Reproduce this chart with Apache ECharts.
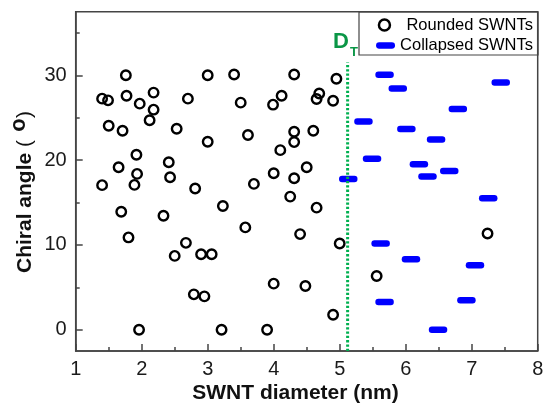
<!DOCTYPE html>
<html>
<head>
<meta charset="utf-8">
<script src="https://cdn.jsdelivr.net/npm/echarts@6/dist/echarts.min.js"></script>
<style>
html,body{margin:0;padding:0;background:#fff;}
#chart{width:543px;height:404px;}
</style>
</head>
<body>
<div id="chart"></div>
<script>
// ---- data ----
const roundedDiameter = [1.76,3.00,1.40,1.49,1.77,2.18,1.97,2.18,2.70,2.12,1.50,1.71,2.53,3.00,1.92,2.41,1.65,1.93,2.43,1.40,1.89,2.81,
  3.40,4.31,4.95,3.50,4.12,3.99,4.69,4.65,4.90,3.61,4.31,4.60,4.31,4.10,4.00,4.50,4.31,3.70,4.25,3.23,4.65,3.57,4.40,5.00,4.00,4.48,4.90,3.21,3.90,
  1.69,2.33,1.80,2.67,2.50,2.90,3.06,2.79,2.95,1.96,7.24,5.56];
const roundedAngle = [30.0,30.0,27.25,27.05,27.6,27.96,26.66,25.95,27.25,24.7,24.06,23.47,23.7,22.17,20.63,19.76,19.17,18.38,17.99,17.05,17.08,16.65,
  30.1,30.1,29.6,26.78,27.6,26.54,27.85,27.2,27.0,22.96,23.35,23.47,22.13,21.18,18.46,19.17,17.87,17.2,15.7,14.6,14.4,12.07,11.28,10.18,5.44,5.16,1.77,0,0,
  13.92,13.45,10.89,10.25,8.71,8.91,8.91,4.18,3.94,0,11.36,6.34];
const collapsedDiameter = [5.68,5.88,7.44,6.79,5.36,6.01,6.46,5.49,6.20,6.66,6.33,5.13,7.25,5.62,6.08,7.05,6.92,5.68,6.49];
const collapsedAngle = [30.06,28.44,29.15,26.04,24.57,23.67,22.44,20.15,19.53,18.73,18.06,17.77,15.5,10.18,8.32,7.61,3.47,3.27,0];
const dT = 5.12;
const dTLineTop = 31.5;
const xTicks = [1,2,3,4,5,6,7,8];
const yTicks = [0,10,20,30];
const yMinorTicks = [5,15,25,35];
const seriesNames = ['Rounded SWNTs','Collapsed SWNTs'];

const roundedData = roundedDiameter.map((d,i)=>[d, roundedAngle[i]]);
const collapsedData = collapsedDiameter.map((d,i)=>[d, collapsedAngle[i]]);
const pill = 'path://M3,0 L15,0 A3,3 0 0 1 15,6 L3,6 A3,3 0 0 1 3,0 Z';

const chart = echarts.init(document.getElementById('chart'), null, {renderer:'canvas'});
const font = 'Liberation Sans, Arial, sans-serif';
const axisColor = '#444';

chart.setOption({
  animation:false,
  backgroundColor:'#fff',
  textStyle:{fontFamily:font},
  grid:{left:75.7, right:5.3, top:11.7, bottom:53, show:true, borderColor:axisColor, borderWidth:1.5, backgroundColor:'transparent', outerBoundsMode:'none'},
  xAxis:{
    type:'value', min:xTicks[0], max:xTicks[xTicks.length-1], interval:1,
    axisLine:{show:true, onZero:false, lineStyle:{color:axisColor, width:1.5}},
    axisTick:{show:true, inside:true, length:7, lineStyle:{color:axisColor, width:1.5}},
    minorTick:{show:true, splitNumber:2, length:4, lineStyle:{color:axisColor, width:1.5}},
    axisLabel:{fontSize:20, color:'#1a1a1a', margin:8, fontFamily:font},
    splitLine:{show:false}
  },
  yAxis:[{
    type:'value', min:-2.5, max:37.5, position:'left',
    axisLine:{show:true, onZero:false, lineStyle:{color:axisColor, width:1.5}},
    axisTick:{show:true, inside:true, length:7, customValues:yTicks, lineStyle:{color:axisColor, width:1.5}},
    axisLabel:{fontSize:20, color:'#1a1a1a', margin:9, customValues:yTicks, fontFamily:font},
    splitLine:{show:false}
  },{
    type:'value', min:-2.5, max:37.5, position:'left',
    axisLine:{show:false, onZero:false},
    axisTick:{show:true, inside:true, length:4, customValues:yMinorTicks, lineStyle:{color:axisColor, width:1.5}},
    axisLabel:{show:false},
    splitLine:{show:false}
  }],
  legend:[{
    data:[{name:seriesNames[0], icon:'circle', itemStyle:{color:'transparent', borderColor:'#000', borderWidth:2.5}}],
    right:10, top:16.5, padding:0, itemWidth:34, itemHeight:11, selectedMode:false,
    textStyle:{fontSize:16.5, color:'#000', fontFamily:font}
  },{
    data:[{name:seriesNames[1], icon:pill, itemStyle:{color:'#0000ff', borderWidth:0}}],
    right:10, top:37, padding:0, itemWidth:19, itemHeight:6.5, selectedMode:false,
    textStyle:{fontSize:16.5, color:'#000', fontFamily:font}
  }],
  graphic:[
    {type:'rect', shape:{x:359, y:12, width:179, height:43}, style:{fill:'none', stroke:axisColor, lineWidth:1.2}, z:100},
    {type:'text', x:295.5, y:393, style:{text:'SWNT diameter (nm)', font:'bold 21px '+font, fill:'#111', textAlign:'center', textVerticalAlign:'middle'}},
    {type:'text', x:25, y:273, rotation:Math.PI/2, style:{
      text:'{b|Chiral angle }{p|(}', textAlign:'left', textVerticalAlign:'middle',
      rich:{b:{font:'bold 21px '+font, fill:'#111'}, p:{font:'21px '+font, fill:'#111'}}}},
    {type:'text', x:18.5, y:125, rotation:Math.PI/2, style:{text:'o', font:'bold 22px '+font, fill:'#111', textAlign:'center', textVerticalAlign:'middle'}},
    {type:'text', x:25, y:118, rotation:Math.PI/2, style:{text:')', font:'21px '+font, fill:'#111', textAlign:'left', textVerticalAlign:'middle'}},
    {type:'text', x:341, y:41.5, style:{text:'D', font:'bold 22px '+font, fill:'#0a9646', textAlign:'center', textVerticalAlign:'middle'}},
    {type:'text', x:354, y:52.5, style:{text:'T', font:'bold 13px '+font, fill:'#0a9646', textAlign:'center', textVerticalAlign:'middle'}}
  ],
  series:[{
    name:seriesNames[0], type:'scatter', data:roundedData, symbol:'circle', symbolSize:9.5,
    itemStyle:{color:'transparent', borderColor:'#000', borderWidth:2.4, opacity:1},
    z:2
  },{
    name:seriesNames[1], type:'scatter', data:collapsedData, symbol:pill, symbolSize:[18.5,6.5],
    itemStyle:{color:'#0000ff', opacity:1},
    z:2
  },{
    name:'DT', type:'line', data:[[dT,-2.5],[dT,dTLineTop]], symbol:'none',
    lineStyle:{color:'#00b050', width:3, type:[2.3,2.0]},
    z:3, silent:true
  }]
});
</script>
</body>
</html>
